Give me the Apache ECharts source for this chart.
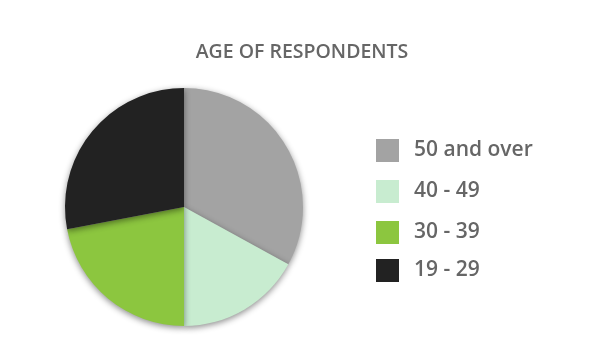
<!DOCTYPE html>
<html><head><meta charset="utf-8">
<script src="https://cdn.jsdelivr.net/npm/echarts@6/dist/echarts.min.js"></script>
<style>html,body{margin:0;padding:0;background:#fff}#c{width:604px;height:364px}</style>
</head><body><div id="c"></div>
<script>
const title = 'AGE OF RESPONDENTS';
const categories = ['50 and over', '40 - 49', '30 - 39', '19 - 29'];
const values = [33, 17, 22, 28];
const colors = ['#a3a3a3', '#c8ecd0', '#8cc63f', '#222222'];
const legendTops = [139, 180, 221, 259];

const chart = echarts.init(document.getElementById('c'), null, {renderer: 'canvas'});
const legends = categories.map((name, i) => ({
  data: [name],
  left: 376,
  top: legendTops[i],
  padding: 0,
  orient: 'vertical',
  itemWidth: 23,
  itemHeight: 23,
  itemGap: 16,
  icon: 'rect',
  selectedMode: false,
  textStyle: {fontFamily: 'Open Sans', fontSize: 21, color: '#666', fontWeight: 600, padding: [0, 0, 0, 10]}
}));
chart.setOption({
  animation: false,
  color: colors,
  title: {
    text: title, left: 'center', top: 37,
    textStyle: {fontFamily: 'Open Sans', fontSize: 19.5, fontWeight: 600, color: '#666'}
  },
  legend: legends,
  series: [{
    type: 'pie',
    center: [184, 207],
    radius: 119,
    startAngle: 90,
    clockwise: true,
    label: {show: false},
    labelLine: {show: false},
    emphasis: {disabled: true},
    itemStyle: {borderWidth: 0, shadowBlur: 6, shadowColor: 'rgba(0,0,0,0.45)', shadowOffsetY: 2},
    data: categories.map((n, i) => ({name: n, value: values[i]}))
  }]
});
</script></body></html>
